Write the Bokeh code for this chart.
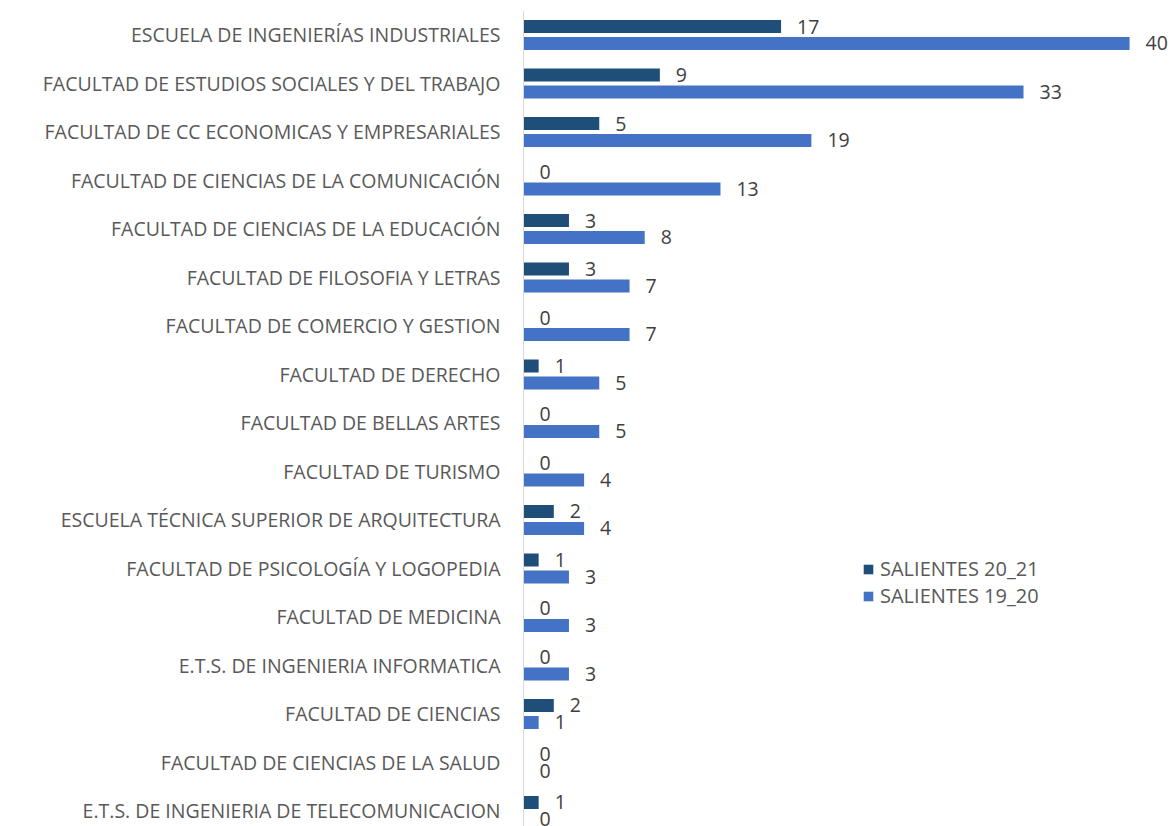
from bokeh.plotting import figure
from bokeh.models import Range1d, FixedTicker, Legend, LegendItem, ColumnDataSource
from bokeh.core.properties import value
from bokeh.embed import file_html
from bokeh.resources import INLINE

categories = [
    "ESCUELA DE INGENIERÍAS INDUSTRIALES",
    "FACULTAD DE ESTUDIOS SOCIALES Y DEL TRABAJO",
    "FACULTAD DE CC ECONOMICAS Y EMPRESARIALES",
    "FACULTAD DE CIENCIAS DE LA COMUNICACIÓN",
    "FACULTAD DE CIENCIAS DE LA EDUCACIÓN",
    "FACULTAD DE FILOSOFIA Y LETRAS",
    "FACULTAD DE COMERCIO Y GESTION",
    "FACULTAD DE DERECHO",
    "FACULTAD DE BELLAS ARTES",
    "FACULTAD DE TURISMO",
    "ESCUELA TÉCNICA SUPERIOR DE ARQUITECTURA",
    "FACULTAD DE PSICOLOGÍA Y LOGOPEDIA",
    "FACULTAD DE MEDICINA",
    "E.T.S. DE INGENIERIA INFORMATICA",
    "FACULTAD DE CIENCIAS",
    "FACULTAD DE CIENCIAS DE LA SALUD",
    "E.T.S. DE INGENIERIA DE TELECOMUNICACION",
]
salientes_20_21 = [17, 9, 5, 0, 3, 3, 0, 1, 0, 0, 2, 1, 0, 0, 2, 0, 1]
salientes_19_20 = [40, 33, 19, 13, 8, 7, 7, 5, 5, 4, 4, 3, 3, 3, 1, 0, 0]
series_names = ["SALIENTES 20_21", "SALIENTES 19_20"]

DARK = "#1F4E79"
LIGHT = "#4472C4"
FONT = "Open Sans"

pos = list(range(len(categories)))
off = 0.175
h = 0.27

src_a = ColumnDataSource(dict(y=[p_ - off for p_ in pos], v=salientes_20_21,
                              t=[str(v) for v in salientes_20_21]))
src_b = ColumnDataSource(dict(y=[p_ + off for p_ in pos], v=salientes_19_20,
                              t=[str(v) for v in salientes_19_20]))

p = figure(width=1173, height=826, output_backend="svg", toolbar_location=None,
           x_range=Range1d(0, 42.9), y_range=Range1d(16.32, -0.505),
           min_border_left=523, min_border_top=10, min_border_bottom=0, min_border_right=0)
p.outline_line_color = None
p.background_fill_color = "white"
p.border_fill_color = "white"
p.grid.visible = False
p.xaxis.visible = False

yax = p.yaxis[0]
yax.ticker = FixedTicker(ticks=pos)
yax.major_label_overrides = {i: c for i, c in enumerate(categories)}
yax.major_tick_line_color = None
yax.minor_tick_line_color = None
yax.axis_line_color = "#D9D9D9"
yax.axis_line_width = 1
yax.major_label_standoff = 17
yax.major_label_text_font = FONT
yax.major_label_text_font_size = "19.5px"
yax.major_label_text_color = "#595959"

ra = p.hbar(y="y", right="v", left=0, height=h, source=src_a, fill_color=DARK, line_color=None)
rb = p.hbar(y="y", right="v", left=0, height=h, source=src_b, fill_color=LIGHT, line_color=None)

for s in (src_a, src_b):
    p.text(x="v", y="y", text="t", source=s, x_offset=16, y_offset=0,
           text_font=value(FONT), text_font_size="19.5px", text_color="#404040",
           text_align="left", text_baseline="middle")

legend = Legend(items=[LegendItem(label=series_names[0], renderers=[ra]),
                       LegendItem(label=series_names[1], renderers=[rb])],
                location=(339, 217), orientation="vertical",
                padding=0, margin=0, spacing=0, glyph_width=12, glyph_height=12,
                label_height=22, label_standoff=6,
                label_text_font=FONT, label_text_font_size="20px",
                label_text_color="#595959", border_line_color=None,
                background_fill_alpha=0)
p.add_layout(legend)

open("out.html", "w").write(file_html(p, INLINE))
